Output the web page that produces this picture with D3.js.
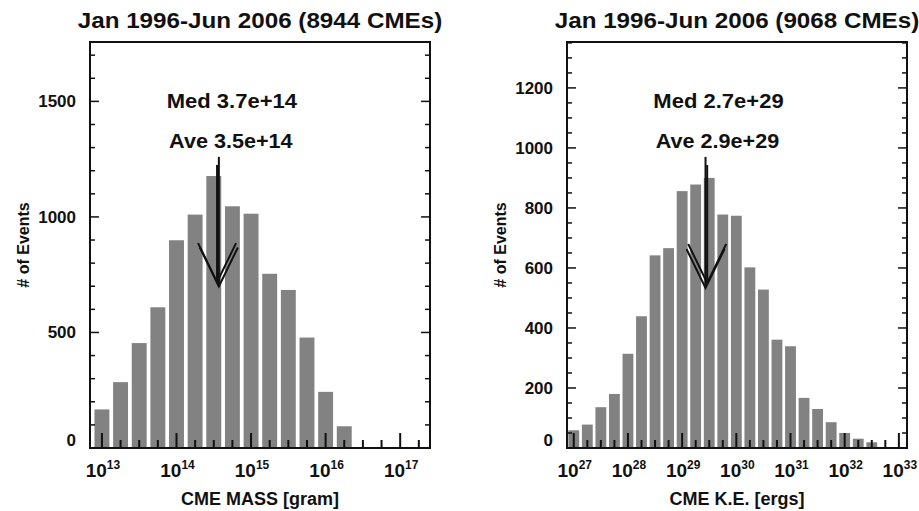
<!DOCTYPE html>
<html><head><meta charset="utf-8">
<script src="https://cdn.jsdelivr.net/npm/d3@7"></script>
<style>
html,body{margin:0;padding:0;background:#fff;}
text{font-family:"Liberation Sans",Arial,Helvetica,sans-serif;font-weight:bold;fill:#111;}
</style></head>
<body>
<svg id="chart" width="919" height="511"></svg>
<script>
// ---------- DATA ----------
// Left panel: CME mass histogram (bin centres as log10 of grams)
const massTitle = "Jan 1996-Jun 2006 (8944 CMEs)";
const massLogCenters = [13, 13.25, 13.5, 13.75, 14, 14.25, 14.5, 14.75, 15, 15.25, 15.5, 15.75, 16, 16.25, 16.5, 16.75];
const massCounts     = [167, 285, 454, 609, 899, 1010, 1177, 1046, 1014, 754, 684, 478, 243, 94, 4, 1];
const massYTicks = [0, 500, 1000, 1500];
const massXDecades = [13, 14, 15, 16, 17];
const massMedian = 3.7e14, massAverage = 3.5e14;
const massLabel = "CME MASS [gram]";
// Right panel: CME kinetic energy histogram (bin centres as log10 of ergs)
const keTitle = "Jan 1996-Jun 2006 (9068 CMEs)";
const keLogCenters = [27, 27.25, 27.5, 27.75, 28, 28.25, 28.5, 28.75, 29, 29.25, 29.5, 29.75, 30, 30.25, 30.5, 30.75, 31, 31.25, 31.5, 31.75, 32, 32.25, 32.5];
const keCounts     = [59, 78, 136, 180, 314, 439, 642, 666, 856, 878, 900, 778, 774, 602, 528, 361, 339, 167, 130, 86, 50, 31, 19];
const keYTicks = [0, 200, 400, 600, 800, 1000, 1200];
const keXDecades = [27, 28, 29, 30, 31, 32, 33];
const keMedian = 2.7e29, keAverage = 2.9e29;
const keLabel = "CME K.E. [ergs]";
const yLabel = "# of Events";

// arrow extents in count units: [top, tip]
const massArrows = [{x: massMedian, top: 1260, tip: 699}, {x: massAverage, top: 1225, tip: 718}];
const keArrows   = [{x: keMedian, top: 970, tip: 533}, {x: keAverage, top: 943, tip: 550}];

const svg = d3.select("#chart");

function stretch(sel, f){
  sel.each(function(){
    const n = this.getComputedTextLength();
    d3.select(this).attr("textLength", n * f).attr("lengthAdjust", "spacingAndGlyphs");
  });
}

function panel(cfg){
  const g = svg.append("g");
  const x = d3.scaleLog().domain(cfg.xDomain).range([cfg.left, cfg.right]);
  const y = d3.scaleLinear().domain([0, cfg.yMax]).range([cfg.bottom, cfg.top]);
  const binPx = x(Math.pow(10, cfg.binW)) - x(1);

  // bars
  g.selectAll("rect.bar").data(cfg.centers.map((c,i)=>({c, v: cfg.counts[i]})))
    .join("rect").attr("class","bar")
    .attr("x", d => x(Math.pow(10, d.c)) - binPx*0.4)
    .attr("width", binPx*0.8)
    .attr("y", d => y(d.v))
    .attr("height", d => y(0) - y(d.v))
    .attr("fill", "#828282");

  // x ticks (quarter decades, major at decades), drawn above bars
  const xt = [];
  for (let e = cfg.xTickStart; e <= cfg.xTickEnd + 1e-9; e += 0.25) xt.push(e);
  g.selectAll("line.xt").data(xt).join("line")
    .attr("x1", e => x(Math.pow(10,e))).attr("x2", e => x(Math.pow(10,e)))
    .attr("y1", cfg.bottom).attr("y2", e => cfg.bottom - (Math.abs(e - Math.round(e)) < 1e-9 ? 15 : 8))
    .attr("stroke", "#111").attr("stroke-width", 2);

  // y ticks (both sides)
  const yt = d3.range(0, cfg.yMax, cfg.yMinor);
  [[cfg.left, 1], [cfg.right, -1]].forEach(([x0, s]) => {
    g.selectAll(null).data(yt).join("line")
      .attr("x1", x0).attr("x2", v => x0 + s * (v % cfg.yMajor === 0 ? 9 : 5))
      .attr("y1", v => y(v)).attr("y2", v => y(v))
      .attr("stroke", "#111").attr("stroke-width", 1.5);
  });

  // frame
  g.append("rect").attr("x", cfg.left).attr("y", cfg.top)
    .attr("width", cfg.right - cfg.left).attr("height", cfg.bottom - cfg.top)
    .attr("fill", "none").attr("stroke", "#111").attr("stroke-width", 2);

  // y tick labels
  g.selectAll("text.yl").data(cfg.yTicks).join("text").attr("class","yl")
    .attr("x", cfg.left - 14).attr("y", v => y(v) + (v === 0 ? -2 : 6))
    .attr("text-anchor", "end").attr("font-size", 17)
    .text(v => v);

  // x tick labels 10^n
  const xl = g.selectAll("text.xl").data(cfg.xDecades).join("text").attr("class","xl")
    .attr("x", e => x(Math.pow(10,e)) + 1).attr("y", 477)
    .attr("text-anchor", "middle").attr("font-size", 19);
  xl.append("tspan").text("10");
  xl.append("tspan").attr("dy", -8).attr("font-size", 12).text(e => e);

  // axis titles
  g.append("text").attr("x", (cfg.left + cfg.right)/2).attr("y", 505)
    .attr("text-anchor", "middle").attr("font-size", 18).text(cfg.xLabel);
  g.append("text").attr("transform", `translate(${cfg.left - 61},${(cfg.top + cfg.bottom)/2})rotate(-90)`)
    .attr("text-anchor", "middle").attr("font-size", 16).text(yLabel);

  // title
  const t = g.append("text").attr("x", (cfg.left + cfg.right)/2).attr("y", 28)
    .attr("text-anchor", "middle").attr("font-size", 22).text(cfg.title);
  stretch(t, 1.1);

  // arrows
  cfg.arrows.forEach(a => {
    const ax = x(a.x), y0 = y(a.top), y1 = y(a.tip);
    g.append("line").attr("x1", ax).attr("x2", ax).attr("y1", y0).attr("y2", y1)
      .attr("stroke", "#111").attr("stroke-width", 2);
    g.append("path").attr("d", `M${ax-19},${y1-39}L${ax},${y1}L${ax+19},${y1-39}`)
      .attr("fill", "none").attr("stroke", "#111").attr("stroke-width", 2);
  });
  const ax0 = x(cfg.arrows[0].x), top0 = y(cfg.arrows[0].top);
  const m = g.append("text").attr("x", ax0 + 13).attr("y", top0 - 49)
    .attr("text-anchor", "middle").attr("font-size", 20).text(cfg.medText);
  const av = g.append("text").attr("x", ax0 + 12).attr("y", top0 - 9)
    .attr("text-anchor", "middle").attr("font-size", 20).text(cfg.aveText);
  stretch(m, 1.1); stretch(av, 1.08);
}

panel({
  left: 90, right: 430, top: 42, bottom: 448,
  xDomain: [Math.pow(10, 12.84), Math.pow(10, 17.4)], yMax: 1757,
  binW: 0.25, centers: massLogCenters, counts: massCounts,
  xTickStart: 13, xTickEnd: 17.25, yMinor: 100, yMajor: 500,
  yTicks: massYTicks, xDecades: massXDecades, xLabel: massLabel, title: massTitle,
  arrows: massArrows,
  medText: "Med " + d3.format(".1e")(massMedian),
  aveText: "Ave " + d3.format(".1e")(massAverage)
});
panel({
  left: 567, right: 907, top: 42, bottom: 448,
  xDomain: [Math.pow(10, 26.875), Math.pow(10, 33.15)], yMax: 1353,
  binW: 0.25, centers: keLogCenters, counts: keCounts,
  xTickStart: 27, xTickEnd: 33, yMinor: 50, yMajor: 200,
  yTicks: keYTicks, xDecades: keXDecades, xLabel: keLabel, title: keTitle,
  arrows: keArrows,
  medText: "Med " + d3.format(".1e")(keMedian),
  aveText: "Ave " + d3.format(".1e")(keAverage)
});
</script>
</body></html>
